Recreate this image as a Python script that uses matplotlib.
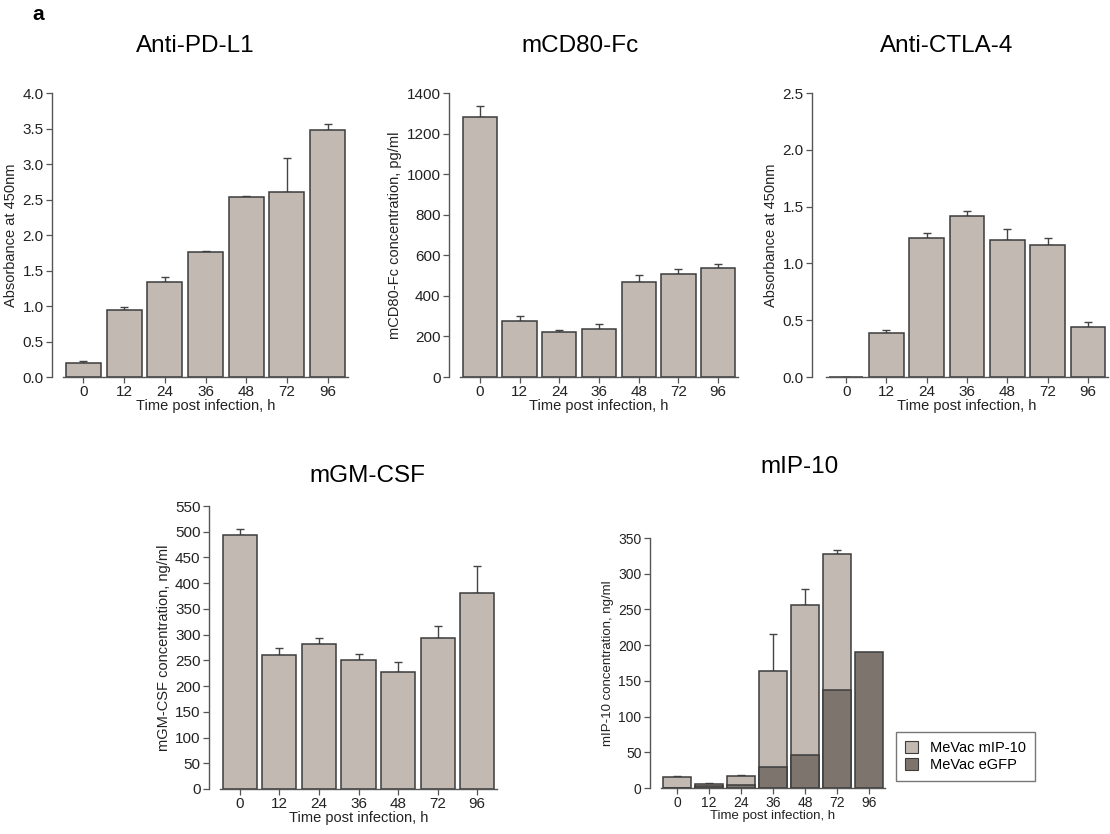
import numpy as np
import matplotlib.pyplot as plt

plt.rcParams['font.family'] = ['Liberation Sans', 'DejaVu Sans']

hours = ['0', '12', '24', '36', '48', '72', '96']

pdl1 = [0.20, 0.94, 1.34, 1.76, 2.54, 2.61, 3.48]
pdl1_err = [0.03, 0.05, 0.07, 0.01, 0.005, 0.48, 0.09]

cd80 = [1280, 275, 222, 238, 468, 508, 538]
cd80_err = [55, 25, 12, 22, 37, 22, 20]

ctla4 = [0.0, 0.39, 1.22, 1.42, 1.21, 1.16, 0.44]
ctla4_err = [0.0, 0.02, 0.05, 0.04, 0.09, 0.06, 0.045]

gmcsf = [494, 260, 282, 250, 228, 293, 381]
gmcsf_err = [12, 14, 12, 13, 18, 24, 53]

ip10_mip = [16, 6, 17, 164, 256, 328, 0]
ip10_mip_err = [0.6, 0.5, 1, 52, 22, 5, 0]
ip10_gfp = [0, 3, 4.5, 30, 46, 137, 190]

LIGHT = '#c1b9b2'
DARK = '#7e746e'
EDGE = '#3c3c3c'
W, H = 1110, 834

fig = plt.figure(figsize=(W / 100, H / 100), dpi=100)


def make_ax(x0, x1, y0, y1):
    # pixel box -> figure coords
    return fig.add_axes([x0 / W, 1 - y1 / H, (x1 - x0) / W, (y1 - y0) / H])


def style(ax, ymax, ystep, ylabel, out=8, ylabsize=10.5, xlabsize=10.5, ticksize=11):
    ax.set_xlim(-0.5, 6.5)
    ax.set_ylim(0, ymax)
    ticks = np.arange(0, ymax + ystep / 2, ystep)
    ax.set_yticks(ticks)
    ax.set_xticks(range(7))
    ax.set_xticklabels(hours)
    for s in ['top', 'right']:
        ax.spines[s].set_visible(False)
    for s in ['left', 'bottom']:
        ax.spines[s].set_color('#555555')
        ax.spines[s].set_linewidth(1.0)
    ax.spines['left'].set_position(('outward', out))
    ax.tick_params(axis='both', colors='#555555', labelcolor='#222222',
                   labelsize=ticksize, length=4, width=0.9, pad=2)
    ax.set_ylabel(ylabel, fontsize=ylabsize, color='#222222', labelpad=3)
    ax.set_xlabel('Time post infection, h', fontsize=xlabsize, color='#222222', labelpad=0)


def bars(ax, vals, errs, color=LIGHT):
    x = np.arange(len(vals))
    ax.bar(x, vals, width=0.86, color=color, edgecolor=EDGE, linewidth=1.1, zorder=2)
    if errs is not None:
        ax.errorbar(x, vals, yerr=[np.zeros(len(errs)), errs], fmt='none',
                    ecolor='#444444', elinewidth=1.0, capsize=3, capthick=1.0, zorder=1)


# Anti-PD-L1
ax1 = make_ax(63, 348, 93, 377)
bars(ax1, pdl1, pdl1_err)
style(ax1, 4.0, 0.5, 'Absorbance at 450nm')
ax1.yaxis.set_major_formatter(plt.FormatStrFormatter('%.1f'))

# mCD80-Fc
ax2 = make_ax(460, 738, 93, 377)
bars(ax2, cd80, cd80_err)
style(ax2, 1400, 200, 'mCD80-Fc concentration, pg/ml')

# Anti-CTLA-4
ax3 = make_ax(826, 1108, 93, 377)
bars(ax3, ctla4, ctla4_err)
style(ax3, 2.5, 0.5, 'Absorbance at 450nm', out=10)
ax3.yaxis.set_major_formatter(plt.FormatStrFormatter('%.1f'))

# mGM-CSF
ax4 = make_ax(220, 497, 506, 789)
bars(ax4, gmcsf, gmcsf_err)
style(ax4, 550, 50, 'mGM-CSF concentration, ng/ml')

# mIP-10
ax5 = make_ax(661, 885, 538, 788)
x = np.arange(7)
ax5.bar(x, ip10_mip, width=0.85, color=LIGHT, edgecolor=EDGE, linewidth=1.1,
        zorder=2, label='MeVac mIP-10')
ax5.errorbar(x, ip10_mip, yerr=[np.zeros(7), ip10_mip_err], fmt='none',
             ecolor='#444444', elinewidth=1.0, capsize=3, capthick=1.0, zorder=1)
ax5.bar(x, ip10_gfp, width=0.85, color=DARK, edgecolor=EDGE, linewidth=1.1,
        zorder=3, label='MeVac eGFP')
style(ax5, 350, 50, 'mIP-10 concentration, ng/ml', ylabsize=9.5, xlabsize=9.5, ticksize=10)
leg = fig.legend(*ax5.get_legend_handles_labels(), loc='lower left',
                 bbox_to_anchor=(889 / W, 1 - 788 / H), fontsize=10.5, frameon=True,
                 fancybox=False, edgecolor='#555555', handlelength=0.9,
                 handleheight=0.9, borderpad=0.6, labelspacing=0.2)
for p in leg.get_patches():
    p.set_linewidth(0.8)

# titles
fig.text(195 / W, 1 - 46 / H, 'Anti-PD-L1', fontsize=17.5, ha='center', va='center')
fig.text(580 / W, 1 - 46 / H, 'mCD80-Fc', fontsize=17.5, ha='center', va='center')
fig.text(947 / W, 1 - 46 / H, 'Anti-CTLA-4', fontsize=17.5, ha='center', va='center')
fig.text(367 / W, 1 - 476 / H, 'mGM-CSF', fontsize=17.5, ha='center', va='center')
fig.text(800 / W, 1 - 467 / H, 'mIP-10', fontsize=17.5, ha='center', va='center')
fig.text(38 / W, 1 - 15 / H, 'a', fontsize=15, fontweight='bold', ha='center', va='center')

fig.savefig('out.png', dpi=100, facecolor='white')
